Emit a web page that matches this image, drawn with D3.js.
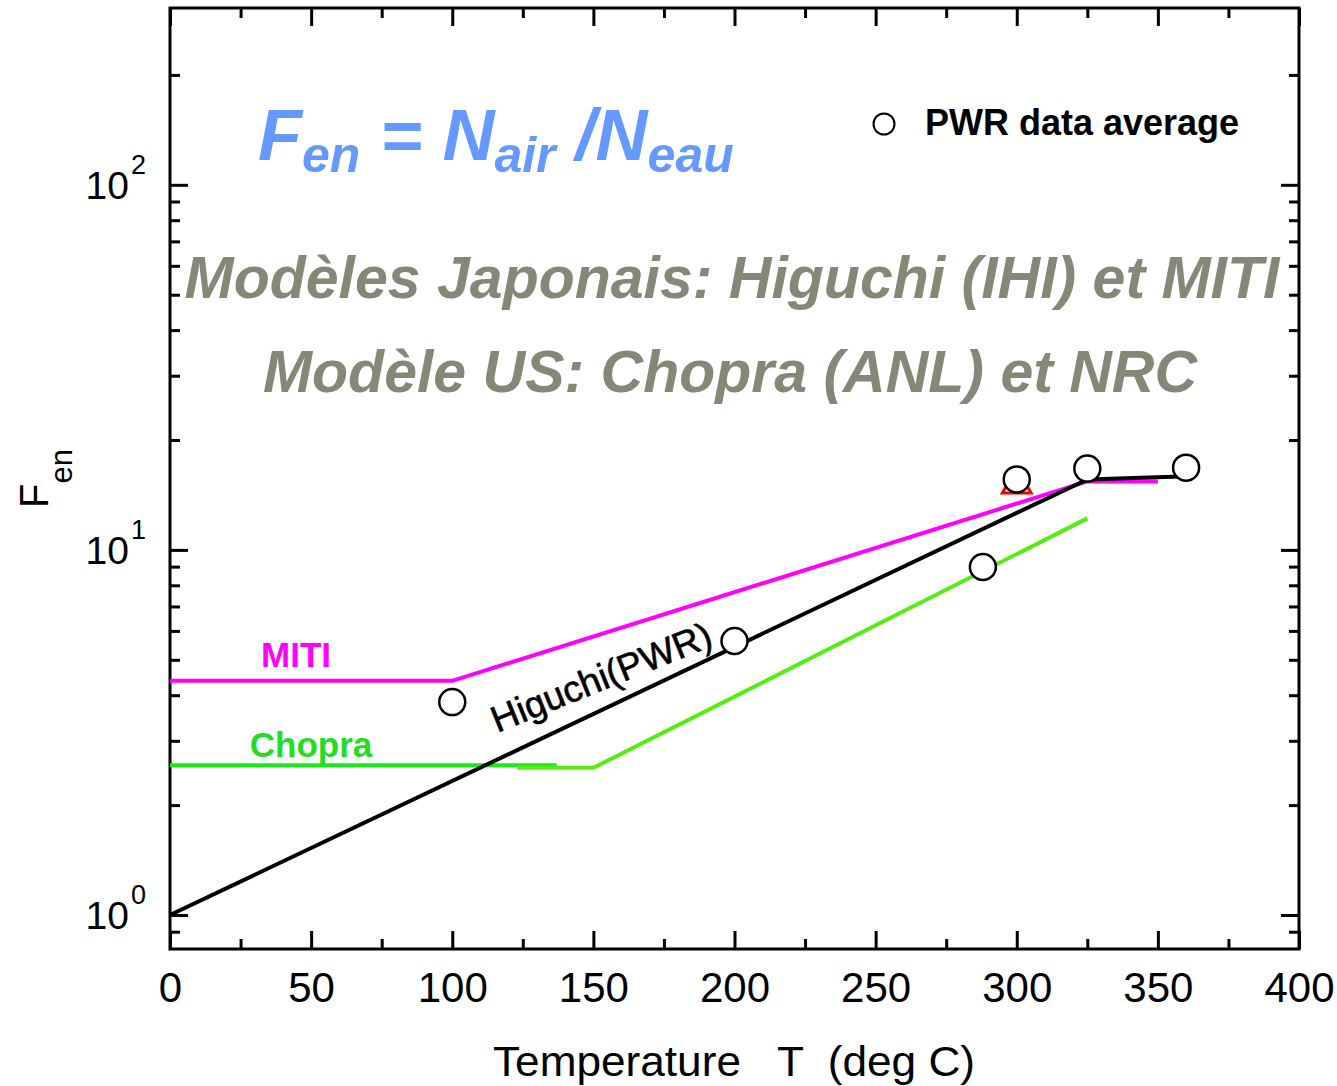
<!DOCTYPE html>
<html>
<head>
<meta charset="utf-8">
<script src="https://cdn.jsdelivr.net/npm/d3@7"></script>
<style>
  body { margin: 0; background: #fff; }
  text { font-family: "Liberation Sans", Arial, sans-serif; }
</style>
</head>
<body>
<div class="chart"></div>
<script>
// Chart data
const xTicks = [0, 50, 100, 150, 200, 250, 300, 350, 400];
const xMinorTicks = [25, 75, 125, 175, 225, 275, 325, 375];
const yMajorTicks = [1, 10, 100];
const yExponents = ['0', '1', '2'];
const yMinorTicks = [0.9, 2, 3, 4, 5, 6, 7, 8, 9, 20, 30, 40, 50, 60, 70, 80, 90, 200];

const mitiT = [0, 100, 325, 350];
const mitiF = [4.38, 4.38, 15.4, 15.4];

const higuchiT = [0, 325, 358];
const higuchiF = [1.0, 15.6, 15.9];

const chopraFlatT = [0, 137];
const chopraFlatF = [2.57, 2.57];
const chopraT = [123, 150, 325];
const chopraF = [2.53, 2.53, 12.2];

const pwrT = [100, 200, 288, 300, 325, 360];
const pwrF = [3.83, 5.63, 8.98, 15.6, 16.7, 16.8];

const triangleT = [300];
const triangleF = [15.1];

// SVG and scales
const width = 1337, height = 1086;
const plot = { left: 170, right: 1299, top: 8, bottom: 949 };

const svg = d3.select('.chart')
  .append('svg')
    .attr('width', width)
    .attr('height', height);

const x = d3.scaleLinear().domain([0, 400]).range([plot.left, plot.right]);
const y = d3.scaleLog().domain([0.807, 305]).range([plot.bottom, plot.top]);

const line = d3.line().x(d => x(d[0])).y(d => y(d[1]));
const zip = (a, b) => a.map((v, i) => [v, b[i]]);

// Axes: ticks point inward on all four sides
function styleAxis(g) {
  g.select('.domain').remove();
  g.selectAll('.tick line').attr('stroke', '#000').attr('stroke-width', 3);
}

svg.append('g')
  .attr('transform', `translate(0,${plot.bottom})`)
  .call(d3.axisBottom(x).tickValues(xTicks).tickSize(-18).tickPadding(23).tickFormat(d3.format('d')))
  .call(styleAxis)
  .selectAll('text')
    .attr('font-size', 42)
    .attr('fill', '#000');

svg.append('g')
  .attr('transform', `translate(0,${plot.bottom})`)
  .call(d3.axisBottom(x).tickValues(xMinorTicks).tickSize(-10).tickFormat(''))
  .call(styleAxis);

svg.append('g')
  .attr('transform', `translate(0,${plot.top})`)
  .call(d3.axisTop(x).tickValues(xTicks).tickSize(-18).tickFormat(''))
  .call(styleAxis);

svg.append('g')
  .attr('transform', `translate(0,${plot.top})`)
  .call(d3.axisTop(x).tickValues(xMinorTicks).tickSize(-10).tickFormat(''))
  .call(styleAxis);

svg.append('g')
  .attr('transform', `translate(${plot.left},0)`)
  .call(d3.axisLeft(y).tickValues(yMajorTicks).tickSize(-18).tickFormat(''))
  .call(styleAxis);

svg.append('g')
  .attr('transform', `translate(${plot.left},0)`)
  .call(d3.axisLeft(y).tickValues(yMinorTicks).tickSize(-10).tickFormat(''))
  .call(styleAxis);

svg.append('g')
  .attr('transform', `translate(${plot.right},0)`)
  .call(d3.axisRight(y).tickValues(yMajorTicks).tickSize(-18).tickFormat(''))
  .call(styleAxis);

svg.append('g')
  .attr('transform', `translate(${plot.right},0)`)
  .call(d3.axisRight(y).tickValues(yMinorTicks).tickSize(-10).tickFormat(''))
  .call(styleAxis);

// y tick labels as 10 with superscript
svg.append('g')
  .selectAll('text')
  .data(yMajorTicks)
  .enter().append('text')
    .attr('x', 129)
    .attr('y', d => y(d) + 14)
    .attr('text-anchor', 'end')
    .attr('font-size', 39)
    .attr('fill', '#000')
    .text('10');
svg.append('g')
  .selectAll('text')
  .data(yMajorTicks)
  .enter().append('text')
    .attr('x', 131)
    .attr('y', d => y(d) - 11)
    .attr('font-size', 27)
    .attr('fill', '#000')
    .text((d, i) => yExponents[i]);

// frame
svg.append('rect')
  .attr('x', plot.left)
  .attr('y', plot.top)
  .attr('width', plot.right - plot.left)
  .attr('height', plot.bottom - plot.top)
  .attr('fill', 'none')
  .attr('stroke', '#000')
  .attr('stroke-width', 3);

// axis titles
svg.append('text')
  .attr('x', 493)
  .attr('y', 1076)
  .attr('font-size', 42)
  .attr('textLength', 482)
  .attr('lengthAdjust', 'spacingAndGlyphs')
  .style('white-space', 'pre')
  .attr('fill', '#000')
  .text('Temperature   T  (deg C)');

const yTitle = svg.append('text')
  .attr('transform', 'translate(48,508) rotate(-90)')
  .attr('font-size', 40)
  .attr('fill', '#000');
yTitle.append('tspan').text('F');
yTitle.append('tspan').attr('font-size', 31).attr('dy', 24).text('en');

// curves
svg.append('path')
  .datum(zip(mitiT, mitiF))
  .attr('d', line)
  .attr('fill', 'none')
  .attr('stroke', '#ff00ff')
  .attr('stroke-width', 4);

svg.append('path')
  .datum(zip(chopraFlatT, chopraFlatF))
  .attr('d', line)
  .attr('fill', 'none')
  .attr('stroke', '#11ee11')
  .attr('stroke-width', 4);

svg.append('path')
  .datum(zip(chopraT, chopraF))
  .attr('d', line)
  .attr('fill', 'none')
  .attr('stroke', '#55ee11')
  .attr('stroke-width', 4);

svg.append('path')
  .datum(zip(higuchiT, higuchiF))
  .attr('d', line)
  .attr('fill', 'none')
  .attr('stroke', '#000')
  .attr('stroke-width', 4);

// red triangle, mostly hidden by a circle
svg.append('g')
  .selectAll('path')
  .data(zip(triangleT, triangleF))
  .enter().append('path')
    .attr('transform', d => `translate(${x(d[0])},${y(d[1])})`)
    .attr('d', d3.symbol(d3.symbolTriangle, 360))
    .attr('fill', 'none')
    .attr('stroke', 'red')
    .attr('stroke-width', 3);

// PWR data average circles
svg.append('g')
  .selectAll('circle')
  .data(zip(pwrT, pwrF))
  .enter().append('circle')
    .attr('cx', d => x(d[0]))
    .attr('cy', d => y(d[1]))
    .attr('r', 13)
    .attr('fill', '#fff')
    .attr('stroke', '#000')
    .attr('stroke-width', 2.5);

// curve labels
svg.append('text')
  .attr('x', 296).attr('y', 667)
  .attr('text-anchor', 'middle')
  .attr('font-size', 35).attr('font-weight', 'bold')
  .attr('fill', '#ff00ff')
  .text('MITI');

svg.append('text')
  .attr('x', 311).attr('y', 757)
  .attr('text-anchor', 'middle')
  .attr('font-size', 35).attr('font-weight', 'bold')
  .attr('fill', '#22dd22')
  .text('Chopra');

svg.append('text')
  .attr('transform', 'translate(606,689) rotate(-22)')
  .attr('text-anchor', 'middle')
  .attr('font-size', 37)
  .attr('fill', '#000')
  .attr('stroke', '#000').attr('stroke-width', 0.6)
  .text('Higuchi(PWR)');

// legend
svg.append('circle')
  .attr('cx', 884).attr('cy', 124).attr('r', 10.5)
  .attr('fill', 'none').attr('stroke', '#000').attr('stroke-width', 2);
svg.append('text')
  .attr('x', 925).attr('y', 135)
  .attr('font-size', 36).attr('font-weight', 'bold')
  .attr('fill', '#000')
  .text('PWR data average');

// big formula
const formula = svg.append('text')
  .attr('x', 258).attr('y', 160)
  .attr('font-size', 72).attr('font-weight', 'bold').attr('font-style', 'italic')
  .attr('fill', '#6699ff');
formula.append('tspan').text('F');
formula.append('tspan').attr('font-size', 50).attr('dy', 12).text('en');
formula.append('tspan').attr('dy', -12).text(' = N');
formula.append('tspan').attr('font-size', 50).attr('dy', 12).text('air');
formula.append('tspan').attr('dy', -12).text(' /N');
formula.append('tspan').attr('font-size', 50).attr('dy', 12).text('eau');

// model annotations
svg.append('text')
  .attr('x', 732).attr('y', 298)
  .attr('text-anchor', 'middle')
  .attr('font-size', 59).attr('font-weight', 'bold').attr('font-style', 'italic')
  .attr('fill', '#878778')
  .text('Modèles Japonais: Higuchi (IHI) et MITI');

svg.append('text')
  .attr('x', 730).attr('y', 392)
  .attr('text-anchor', 'middle')
  .attr('font-size', 59).attr('font-weight', 'bold').attr('font-style', 'italic')
  .attr('fill', '#878778')
  .text('Modèle US: Chopra (ANL) et NRC');
</script>
</body>
</html>
